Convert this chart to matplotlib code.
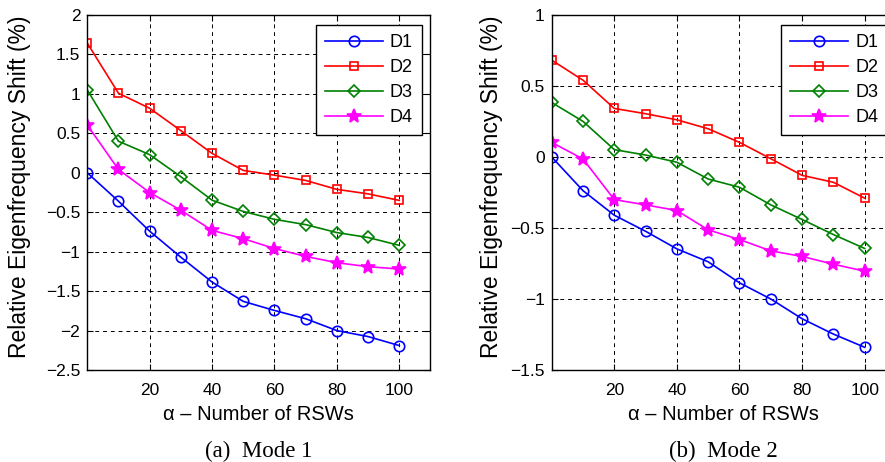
import numpy as np
import matplotlib
matplotlib.use("Agg")
import matplotlib.pyplot as plt

alpha = [0, 10, 20, 30, 40, 50, 60, 70, 80, 90, 100]

# Mode 1
m1_d1 = [0.0, -0.36, -0.74, -1.07, -1.385, -1.63, -1.745, -1.85, -2.0, -2.076, -2.19]
m1_d2 = [1.644, 1.008, 0.818, 0.534, 0.246, 0.03, -0.03, -0.097, -0.21, -0.267, -0.35]
m1_d3 = [1.05, 0.40, 0.23, -0.05, -0.347, -0.49, -0.59, -0.657, -0.758, -0.82, -0.92]
m1_d4 = [0.606, 0.042, -0.25, -0.475, -0.73, -0.835, -0.96, -1.06, -1.14, -1.19, -1.22]

# Mode 2
m2_d1 = [0.0, -0.237, -0.41, -0.523, -0.647, -0.738, -0.886, -1.0, -1.139, -1.247, -1.34]
m2_d2 = [0.682, 0.541, 0.342, 0.305, 0.262, 0.199, 0.103, -0.012, -0.129, -0.178, -0.29]
m2_d3 = [0.384, 0.251, 0.052, 0.014, -0.037, -0.155, -0.213, -0.337, -0.44, -0.546, -0.644]
m2_d4 = [0.103, -0.014, -0.30, -0.337, -0.377, -0.513, -0.581, -0.661, -0.70, -0.755, -0.804]

labels = ["D1", "D2", "D3", "D4"]
xticks = [20, 40, 60, 80, 100]
yticks1 = [-2.5, -2, -1.5, -1, -0.5, 0, 0.5, 1, 1.5, 2]
yticks2 = [-1.5, -1, -0.5, 0, 0.5, 1]
captions = ["(a)  Mode 1", "(b)  Mode 2"]
xlabel = "\u03b1 \u2013 Number of RSWs"
ylabel = "Relative Eigenfrequency Shift (%)"

plt.rcParams['font.family'] = ['Liberation Sans', 'DejaVu Sans']

styles = [
    dict(color=(0, 0, 1), marker='o', markersize=7.5, markerfacecolor='none'),
    dict(color=(1, 0, 0), marker='s', markersize=6, markerfacecolor='none'),
    dict(color=(0, 0.5, 0), marker='D', markersize=6.5, markerfacecolor='none'),
    dict(color=(1, 0, 1), marker='*', markersize=10),
]

def fmt(v):
    s = ('%g' % v)
    return s.replace('-', '\u2212')

fig = plt.figure(figsize=(8.85, 4.62), dpi=100)
ax1 = fig.add_axes([0.0986, 0.1991, 0.3878, 0.7684])
ax2 = fig.add_axes([0.6234, 0.1991, 0.3890, 0.7684])

data = [[m1_d1, m1_d2, m1_d3, m1_d4], [m2_d1, m2_d2, m2_d3, m2_d4]]
ylims = [(-2.5, 2), (-1.5, 1)]
yts = [yticks1, yticks2]
ylab_x = [-0.196, -0.176]

for ax, series, ylim, yt, cap, lx in zip([ax1, ax2], data, ylims, yts, captions, ylab_x):
    for s, lab, st in zip(series, labels, styles):
        ax.plot(alpha, s, label=lab, linewidth=1.2, markeredgewidth=1.2, **st)
    ax.set_xlim(0, 110)
    ax.set_ylim(*ylim)
    ax.set_xticks(xticks)
    ax.set_xticklabels([str(t) for t in xticks])
    ax.set_yticks(yt)
    ax.set_yticklabels([fmt(t) for t in yt])
    ax.tick_params(direction='in', top=True, right=True, labelsize=12.5,
                   length=4, width=0.8)
    ax.tick_params(axis='x', pad=9)
    ax.tick_params(axis='y', pad=5)
    ax.grid(True, color='black', linestyle=(0, (4, 4)), linewidth=0.7)
    for sp in ax.spines.values():
        sp.set_linewidth(1.0)
    ax.set_xlabel(xlabel, fontsize=14.5, va='center')
    ax.xaxis.set_label_coords(0.5, -0.125)
    ax.set_ylabel(ylabel, fontsize=16.5, va='center')
    ax.yaxis.set_label_coords(lx, 0.515)
    ax.text(0.5, -0.246, cap, transform=ax.transAxes, ha='center', va='baseline',
            fontsize=16.5, family=['Liberation Serif', 'DejaVu Serif'])
    leg = ax.legend(loc='upper right', bbox_to_anchor=(0.975, 0.972),
                    borderaxespad=0, fontsize=13, handlelength=3.2,
                    fancybox=False, framealpha=1, edgecolor='black',
                    labelspacing=0.45, borderpad=0.5, handletextpad=0.4)
    leg.get_frame().set_linewidth(1.0)

fig.savefig("out.png", dpi=100)
